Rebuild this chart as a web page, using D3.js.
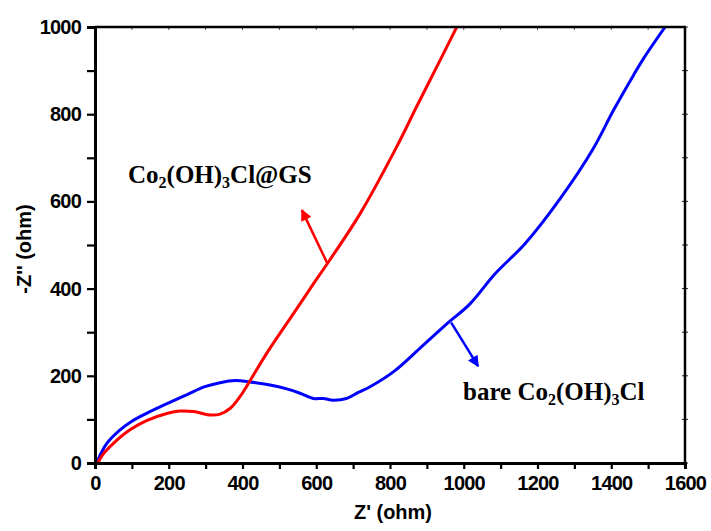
<!DOCTYPE html>
<html><head><meta charset="utf-8">
<script src="https://cdn.jsdelivr.net/npm/d3@7"></script>
<style>body{margin:0;background:#fff}svg{display:block}</style>
</head><body>
<svg id="c" width="711" height="531"></svg>
<script>
// Data (Nyquist plots): [Z', -Z'']
const gsSeries = [[8,0],[20,18],[50,45],[95,76],[140,97],[197,114],[230,119],[267,118],[312,110],[339,112],[366,125],[393,152],[420,188],[466,252],[540,345],[590,408],[633,461],[719,572],[818,725],[872,817],[936,924],[981,1000]];
const bareSeries = [[5,0],[15,20],[32,45],[68,76],[100,96],[140,114],[200,138],[250,157],[298,175],[339,184],[380,189],[420,186],[475,179],[520,170],[556,160],[592,148],[619,148],[646,144],[682,148],[714,162],[746,175],[809,209],[881,263],[954,319],[1017,365],[1085,434],[1166,503],[1261,606],[1351,721],[1406,809],[1460,889],[1487,927],[1546,1000]];
const xTicks = [0,200,400,600,800,1000,1200,1400,1600];
const yTicks = [0,200,400,600,800,1000];
const minorStep = 100;
const xLabel = "Z' (ohm)";
const yLabel = "-Z'' (ohm)";
// annotation anchors in data units
const gsArrow = {from:[630,458], to:[561,580]};
const bareArrow = {from:[966,322], to:[1039,222]};

const svg = d3.select('#c');
const M = {l:95, r:685, t:27, b:463};
const x = d3.scaleLinear().domain([0,1600]).range([M.l,M.r]);
const y = d3.scaleLinear().domain([0,1000]).range([M.b,M.t]);
const bold = 'Liberation Sans, Arial, sans-serif';
const serif = 'Liberation Serif, Times New Roman, serif';

const defs = svg.append('defs');
defs.append('clipPath').attr('id','clip').append('rect')
  .attr('x',M.l).attr('y',M.t).attr('width',M.r-M.l).attr('height',M.b-M.t);
['red','blue'].forEach(c=>{
  defs.append('marker').attr('id','ah-'+c).attr('viewBox','0 0 10 10')
    .attr('refX',9).attr('refY',5).attr('markerWidth',5).attr('markerHeight',4.5)
    .attr('markerUnits','strokeWidth').attr('orient','auto')
    .append('path').attr('d','M0,0L10,5L0,10Z').attr('fill',c==='red'?'#ff0000':'#0000ff');
});

const minor = d3.range(0,1601,minorStep);
const minorY = d3.range(0,1001,minorStep);

// top/right small ticks
svg.append('g').selectAll('line').data(minor).join('line')
  .attr('x1',d=>x(d)).attr('x2',d=>x(d)).attr('y1',M.t-1).attr('y2',M.t+3)
  .attr('stroke','#555').attr('stroke-width',1);
svg.append('g').selectAll('line').data(minorY).join('line')
  .attr('y1',d=>y(d)).attr('y2',d=>y(d)).attr('x1',M.r-3).attr('x2',M.r+3)
  .attr('stroke','#222').attr('stroke-width',1);

// lines
const line = d3.line().x(d=>x(d[0])).y(d=>y(d[1])).curve(d3.curveCatmullRom.alpha(0.5));
const g = svg.append('g').attr('clip-path','url(#clip)');
g.append('path').datum(bareSeries).attr('d',line).attr('fill','none').attr('stroke','#0000ff').attr('stroke-width',3);
g.append('path').datum(gsSeries).attr('d',line).attr('fill','none').attr('stroke','#ff0000').attr('stroke-width',3);

// frame
svg.append('line').attr('x1',M.l).attr('x2',M.r+1).attr('y1',M.t).attr('y2',M.t).attr('stroke','#000').attr('stroke-width',2.5);
svg.append('line').attr('x1',M.r).attr('x2',M.r).attr('y1',M.t).attr('y2',M.b).attr('stroke','#000').attr('stroke-width',2.5);

// bottom axis
const xa = svg.append('g').attr('transform',`translate(0,${M.b})`)
  .call(d3.axisBottom(x).tickValues(minor).tickSize(6).tickFormat(d=>xTicks.includes(d)?d:''));
xa.select('.domain').attr('stroke-width',3);
xa.selectAll('.tick line').attr('stroke-width',2.2);
xa.selectAll('.tick text').attr('font-family',bold).attr('font-weight','bold').attr('font-size',20)
  .attr('letter-spacing','-0.8').attr('dy','0.71em').attr('y',13).attr('fill','#000');

// left axis
const ya = svg.append('g').attr('transform',`translate(${M.l},0)`)
  .call(d3.axisLeft(y).tickValues(minorY).tickSize(8).tickFormat(d=>yTicks.includes(d)?d:''));
ya.select('.domain').attr('stroke-width',3);
ya.selectAll('.tick line').attr('stroke-width',2.2);
ya.selectAll('.tick text').attr('font-family',bold).attr('font-weight','bold').attr('font-size',20)
  .attr('letter-spacing','-0.8').attr('x',-14).attr('fill','#000');

// axis titles
svg.append('text').attr('x',393).attr('y',519).attr('text-anchor','middle')
  .attr('font-family',bold).attr('font-weight','bold').attr('font-size',20).text(xLabel);
svg.append('text').attr('transform',`translate(31,249) rotate(-90)`).attr('text-anchor','middle')
  .attr('font-family',bold).attr('font-weight','bold').attr('font-size',20).text(yLabel);

// arrows
[[gsArrow,'red','#ff0000'],[bareArrow,'blue','#0000ff']].forEach(([a,n,c])=>{
  svg.append('line').attr('x1',x(a.from[0])).attr('y1',y(a.from[1]))
    .attr('x2',x(a.to[0])).attr('y2',y(a.to[1]))
    .attr('stroke',c).attr('stroke-width',2.5).attr('marker-end',`url(#ah-${n})`);
});

// annotation labels
function chem(px, py, parts){
  const tx = svg.append('text').attr('x',px).attr('y',py).attr('font-family',serif)
    .attr('font-weight','bold').attr('font-size',25).attr('fill','#000');
  parts.forEach(p=>{
    if(p.sub){ tx.append('tspan').attr('font-size',16).attr('dy',5).text(p.t); }
    else { tx.append('tspan').attr('dy',p.after?-5:0).text(p.t); }
  });
}
chem(128, 183, [{t:'Co'},{t:'2',sub:1},{t:'(OH)',after:1},{t:'3',sub:1},{t:'Cl@GS',after:1}]);
chem(463, 400, [{t:'bare Co'},{t:'2',sub:1},{t:'(OH)',after:1},{t:'3',sub:1},{t:'Cl',after:1}]);
</script>
</body></html>
